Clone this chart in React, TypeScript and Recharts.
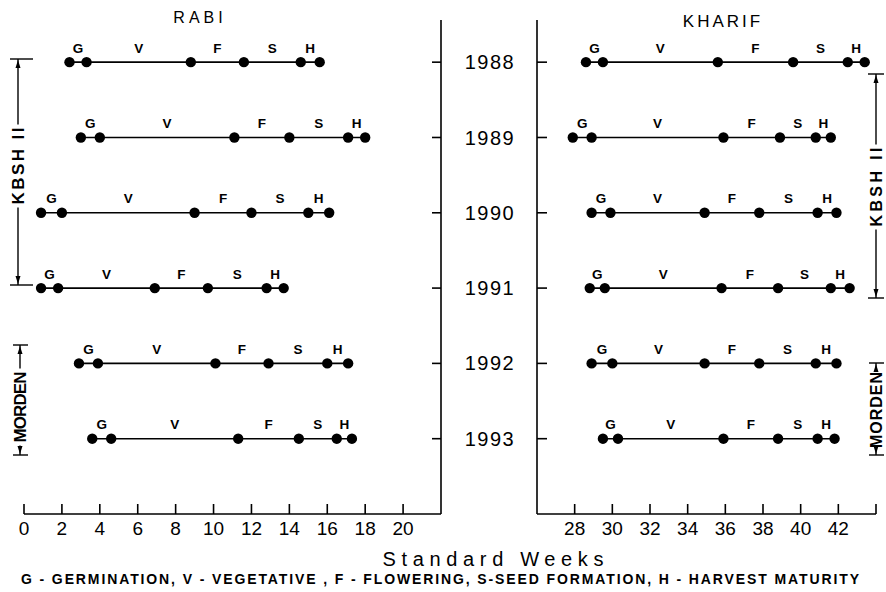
import React from "react";
import { ScatterChart, Scatter, XAxis, YAxis } from "recharts";

const years = [1988, 1989, 1990, 1991, 1992, 1993];
const phases = ["G", "V", "F", "S", "H"];

// week boundaries per year: germ start, veg start, flowering, seed, harvest start, harvest end
const rabiWeeks = [
  [2.4, 3.3, 8.8, 11.6, 14.6, 15.6],
  [3.0, 4.0, 11.1, 14.0, 17.1, 18.0],
  [0.9, 2.0, 9.0, 12.0, 15.0, 16.1],
  [0.9, 1.8, 6.9, 9.7, 12.8, 13.7],
  [2.9, 3.9, 10.1, 12.9, 16.0, 17.1],
  [3.6, 4.6, 11.3, 14.5, 16.5, 17.3],
];
const kharifWeeks = [
  [28.6, 29.5, 35.6, 39.6, 42.5, 43.4],
  [27.9, 28.9, 35.9, 38.9, 40.8, 41.6],
  [28.9, 29.9, 34.9, 37.8, 40.9, 41.9],
  [28.8, 29.6, 35.8, 38.8, 41.6, 42.6],
  [28.9, 30.0, 34.9, 37.8, 40.8, 41.9],
  [29.5, 30.3, 35.9, 38.8, 40.9, 41.8],
];

const rabiTicks = [0, 2, 4, 6, 8, 10, 12, 14, 16, 18, 20];
const kharifTicks = [28, 30, 32, 34, 36, 38, 40, 42, 44];

const FONT = "'Liberation Sans', Arial, sans-serif";
const yDomain = [1987.44, 1994];

const rowPoints = (weeks: number[], year: number) => weeks.map((w) => ({ w, y: year }));
const rowLabels = (weeks: number[], year: number) =>
  phases.map((t, i) => ({ w: (weeks[i] + weeks[i + 1]) / 2, y: year, t }));

const Dot = (p: any) => <circle cx={p.cx} cy={p.cy} r={5.2} fill="#000" />;
const Letter = (p: any) => (
  <text
    x={p.cx}
    y={p.cy - 14}
    textAnchor="middle"
    dominantBaseline="central"
    fontFamily={FONT}
    fontWeight="bold"
    fontSize={13.5}
    fill="#000"
  >
    {p.payload.t}
  </text>
);

function Panel({ weeks }: { weeks: number[][] }) {
  return (
    <>
      {weeks.map((row, i) => (
        <Scatter
          key={"r" + i}
          data={rowPoints(row, years[i])}
          shape={Dot}
          line={{ stroke: "#000", strokeWidth: 1.6 }}
          isAnimationActive={false}
        />
      ))}
      {weeks.map((row, i) => (
        <Scatter
          key={"l" + i}
          data={rowLabels(row, years[i])}
          shape={Letter}
          isAnimationActive={false}
        />
      ))}
    </>
  );
}

function Bracket({ x, top, bottom, textMid, textLen, label, barL, barR, size = 17 }: any) {
  const t0 = textMid - textLen / 2 - 3;
  const t1 = textMid + textLen / 2 + 3;
  return (
    <g stroke="#000" strokeWidth={1.4} fill="#000">
      <line x1={barL} x2={barR} y1={top} y2={top} />
      <line x1={barL} x2={barR} y1={bottom} y2={bottom} />
      <line x1={x} x2={x} y1={top} y2={t0} />
      <line x1={x} x2={x} y1={t1} y2={bottom} />
      <polygon points={`${x},${top + 1} ${x - 2.5},${top + 9} ${x + 2.5},${top + 9}`} stroke="none" />
      <polygon points={`${x},${bottom - 1} ${x - 2.5},${bottom - 9} ${x + 2.5},${bottom - 9}`} stroke="none" />
      <text
        x={x}
        y={textMid}
        transform={`rotate(-90 ${x} ${textMid})`}
        textAnchor="middle"
        dominantBaseline="central"
        fontFamily={FONT}
        fontWeight="bold"
        fontSize={size}
        textLength={textLen}
        lengthAdjust="spacing"
        stroke="none"
      >
        {label}
      </text>
    </g>
  );
}

const axisStroke = { stroke: "#000", strokeWidth: 1.6 };
const tickStyle = { fill: "#000", fontSize: 19, fontFamily: FONT };

export default function App() {
  return (
    <div style={{ position: "absolute", left: 0, top: 0, width: 886, height: 592, background: "#fff" }}>
      <div style={{ position: "absolute", left: 0, top: 0 }}>
        <ScatterChart width={450} height={545} margin={{ top: 20, right: 0, bottom: 0, left: 24 }}>
          <XAxis
            type="number"
            dataKey="w"
            domain={[0, 22]}
            ticks={rabiTicks}
            interval={0}
            allowDataOverflow
            height={31}
            tickSize={-10}
            tickMargin={18}
            axisLine={axisStroke}
            tickLine={axisStroke}
            tick={tickStyle}
          />
          <YAxis
            type="number"
            dataKey="y"
            orientation="right"
            domain={yDomain}
            reversed
            allowDataOverflow
            ticks={years}
            interval={0}
            width={9}
            tickSize={-9}
            tickFormatter={() => ""}
            axisLine={axisStroke}
            tickLine={axisStroke}
          />
          {Panel({ weeks: rabiWeeks })}
        </ScatterChart>
      </div>
      <div style={{ position: "absolute", left: 450, top: 0 }}>
        <ScatterChart width={436} height={545} margin={{ top: 20, right: 10, bottom: 0, left: 0 }}>
          <XAxis
            type="number"
            dataKey="w"
            domain={[26, 44]}
            ticks={kharifTicks}
            interval={0}
            allowDataOverflow
            height={31}
            tickSize={-10}
            tickMargin={18}
            tickFormatter={(v: number) => (v === 44 ? "" : String(v))}
            axisLine={axisStroke}
            tickLine={axisStroke}
            tick={tickStyle}
          />
          <YAxis
            type="number"
            dataKey="y"
            orientation="left"
            domain={yDomain}
            reversed
            allowDataOverflow
            ticks={years}
            interval={0}
            width={87}
            tickSize={-10}
            tickMargin={57}
            axisLine={axisStroke}
            tickLine={axisStroke}
            tick={{ ...tickStyle, fontSize: 20, letterSpacing: 1.5, textAnchor: "middle" }}
          />
          {Panel({ weeks: kharifWeeks })}
        </ScatterChart>
      </div>
      <svg
        width={886}
        height={592}
        style={{ position: "absolute", left: 0, top: 0, pointerEvents: "none" }}
      >
        <text x={200} y={17} textAnchor="middle" dominantBaseline="central" fontFamily={FONT} fontSize={16} letterSpacing={4}>
          RABI
        </text>
        <text x={723} y={21} textAnchor="middle" dominantBaseline="central" fontFamily={FONT} fontSize={17} letterSpacing={3}>
          KHARIF
        </text>
        <text x={493} y={559} textAnchor="middle" dominantBaseline="central" fontFamily={FONT} fontSize={20} textLength={221} lengthAdjust="spacing">
          Standard  Weeks
        </text>
        <text x={440} y={579} textAnchor="middle" dominantBaseline="central" fontFamily={FONT} fontWeight="bold" fontSize={14} textLength={838} lengthAdjust="spacing">
          G - GERMINATION,  V - VEGETATIVE , F - FLOWERING, S-SEED FORMATION,  H - HARVEST MATURITY
        </text>
        <Bracket x={18} top={59} bottom={285} textMid={166} textLen={77} label="KBSH II" barL={10} barR={33} />
        <Bracket x={20} top={345} bottom={455} textMid={407} textLen={71} label="MORDEN" barL={13} barR={28} />
        <Bracket x={876} top={74} bottom={298} textMid={187} textLen={79} label="KBSH II" barL={868} barR={884} size={16} />
        <Bracket x={876} top={363} bottom={455} textMid={410} textLen={76} label="MORDEN" barL={869} barR={884} size={16} />
      </svg>
    </div>
  );
}
